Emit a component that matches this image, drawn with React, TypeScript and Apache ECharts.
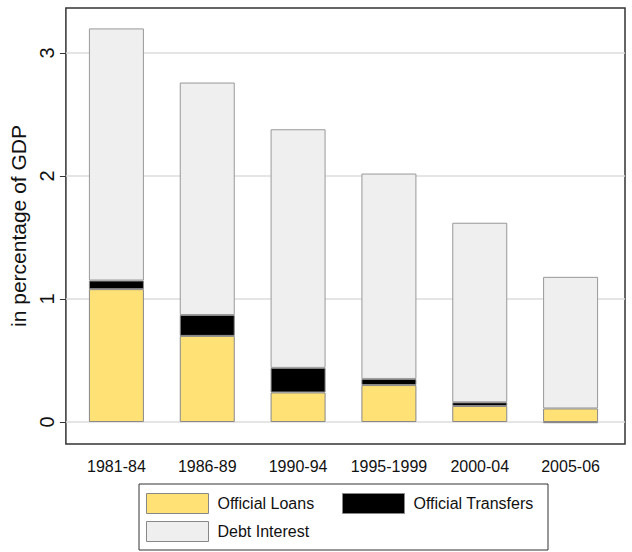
import React, { useEffect, useRef } from "react";
import * as echarts from "echarts";

const categories = ["1981-84", "1986-89", "1990-94", "1995-1999", "2000-04", "2005-06"];
const officialLoans = [1.08, 0.70, 0.24, 0.30, 0.13, 0.11];
const officialTransfers = [0.07, 0.17, 0.20, 0.05, 0.03, -0.01];
const debtInterest = [2.05, 1.89, 1.94, 1.67, 1.46, 1.07];
const yTicks = [0, 1, 2, 3];

const FONT = "Liberation Sans";
const Y_MIN = -0.179;
const Y_MAX = 3.366;

export default function App() {
  const ref = useRef<HTMLDivElement>(null);
  useEffect(() => {
    document.body.style.margin = "0";
    if (!ref.current) return;
    const chart = echarts.init(ref.current, undefined, { renderer: "svg" });
    const border = { borderColor: "#888", borderWidth: 1 };
    const legendBase = {
      orient: "horizontal",
      icon: "rect",
      itemWidth: 62,
      itemHeight: 20,
      textStyle: { fontFamily: FONT, fontSize: 16, color: "#111", padding: [0, 0, 0, 4] },
      itemStyle: border,
      selectedMode: false,
      padding: 0,
    };
    chart.setOption({
      animation: false,
      backgroundColor: "#fff",
      textStyle: { fontFamily: FONT },
      grid: [
        { left: 62, right: 7, top: 8, bottom: 108, show: true, borderColor: "#333", borderWidth: 1.5, backgroundColor: "transparent" },
        { left: 71, right: 16, top: 8, bottom: 108 },
      ],
      xAxis: [
        { gridIndex: 0, type: "value", min: 0, max: 1, show: false },
        {
          gridIndex: 1,
          type: "category",
          data: categories,
          axisLine: { show: false },
          axisTick: { show: false },
          axisLabel: { interval: 0, fontFamily: FONT, fontSize: 16, color: "#111", margin: 14 },
        },
      ],
      yAxis: [
        {
          gridIndex: 0,
          type: "value",
          min: Y_MIN,
          max: Y_MAX,
          name: "in percentage of GDP",
          nameLocation: "middle",
          nameGap: 28,
          nameTextStyle: { fontFamily: FONT, fontSize: 21, color: "#111" },
          axisLine: { show: false },
          axisTick: { show: true, length: 6, customValues: yTicks, lineStyle: { color: "#333", width: 1 } },
          axisLabel: { customValues: yTicks, rotate: 90, fontFamily: FONT, fontSize: 20, color: "#111", margin: 9 },
          splitLine: { show: true, lineStyle: { color: "#dcdcdc", width: 1.5 } },
        },
        { gridIndex: 1, type: "value", min: Y_MIN, max: Y_MAX, show: false, splitLine: { show: false } },
      ],
      legend: [
        { ...legendBase, left: 146, top: 493, data: ["Official Loans"] },
        { ...legendBase, left: 342, top: 493, data: ["Official Transfers"] },
        { ...legendBase, left: 146, top: 521, data: ["Debt Interest"] },
      ],
      graphic: [
        {
          type: "rect",
          shape: { x: 139, y: 484, width: 409, height: 66 },
          style: { fill: "none", stroke: "#333", lineWidth: 1 },
          silent: true,
        },
      ],
      series: [
        {
          name: "Official Loans",
          type: "bar",
          stack: "total",
          xAxisIndex: 1,
          yAxisIndex: 1,
          barWidth: 55,
          data: officialLoans,
          itemStyle: { color: "#FFE176", ...border },
        },
        {
          name: "Official Transfers",
          type: "bar",
          stack: "total",
          xAxisIndex: 1,
          yAxisIndex: 1,
          barWidth: 55,
          data: officialTransfers,
          itemStyle: { color: "#000000", ...border },
        },
        {
          name: "Debt Interest",
          type: "bar",
          stack: "total",
          xAxisIndex: 1,
          yAxisIndex: 1,
          barWidth: 55,
          data: debtInterest,
          itemStyle: { color: "#EFEFEF", borderColor: "#999", borderWidth: 1 },
        },
      ],
    });
    return () => chart.dispose();
  }, []);
  return <div ref={ref} style={{ width: 632, height: 552 }} />;
}
